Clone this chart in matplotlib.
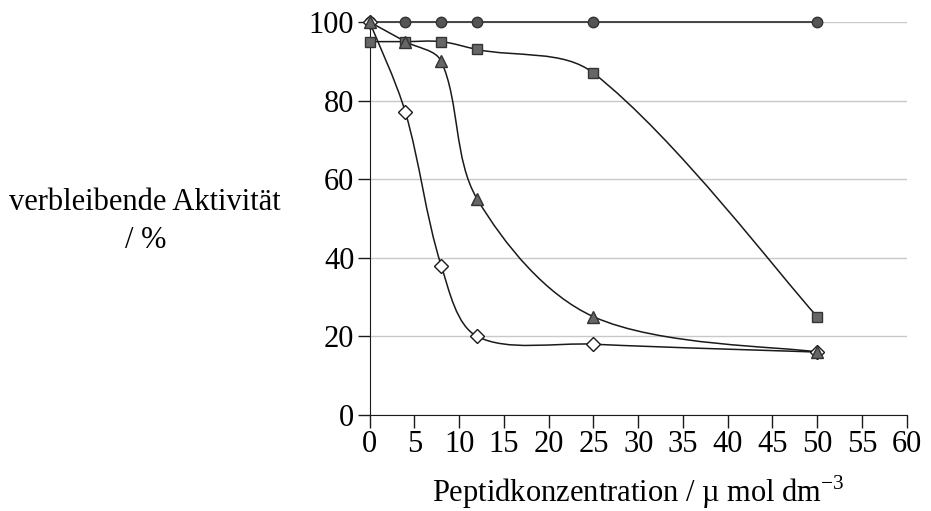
import numpy as np
import matplotlib
matplotlib.use("Agg")
import matplotlib.pyplot as plt
from matplotlib.path import Path
from matplotlib.patches import PathPatch

plt.rcParams["font.family"] = ["Liberation Serif", "DejaVu Serif"]
plt.rcParams["mathtext.fontset"] = "custom"
plt.rcParams["mathtext.rm"] = "Liberation Serif"

# Peptidkonzentration / umol dm^-3
conc = [0, 4, 8, 12, 25, 50]

# verbleibende Aktivitaet / %
circles = [100, 100, 100, 100, 100, 100]
squares = [95, 95, 95, 93, 87, 25]
triangles = [100, 95, 90, 55, 25, 16]
diamonds = [100, 77, 38, 20, 18, 16]

xticks = list(range(0, 61, 5))
yticks = [0, 20, 40, 60, 80, 100]


def smooth_path(ax, x, y):
    # Excel-like smoothed line, tangents worked out in screen units
    sx, sy = ax.transData.get_matrix()[0, 0], ax.transData.get_matrix()[1, 1]
    pts = np.column_stack([np.array(x) * sx, np.array(y) * sy]).astype(float)
    n = len(pts)
    verts = [pts[0]]
    codes = [Path.MOVETO]
    for i in range(n - 1):
        p0 = pts[i - 1] if i > 0 else pts[i]
        p1 = pts[i]
        p2 = pts[i + 1]
        p3 = pts[i + 2] if i + 2 < n else pts[i + 1]
        d01 = np.hypot(*(p1 - p0))
        d12 = np.hypot(*(p2 - p1))
        d23 = np.hypot(*(p3 - p2))
        f1 = d12 / (d01 + d12) / 3 if d01 > 0 else 1 / 6
        f2 = d12 / (d12 + d23) / 3 if d23 > 0 else 1 / 6
        c1 = p1 + (p2 - p0) * f1
        c2 = p2 - (p3 - p1) * f2
        verts += [c1, c2, p2]
        codes += [Path.CURVE4] * 3
    verts = np.array(verts) / [sx, sy]
    return Path(verts, codes)


fig = plt.figure(figsize=(9.31, 5.11), dpi=100)
ax = fig.add_axes([0.397, 0.188, 0.577, 0.769])
ax.set_xlim(0, 60)
ax.set_ylim(0, 100)

for vals in [circles, squares, triangles, diamonds]:
    ax.add_patch(PathPatch(smooth_path(ax, conc, vals), facecolor="none",
                           edgecolor="#1a1a1a", lw=1.1, zorder=3, clip_on=False))

ax.plot(conc, circles, "o", ms=7.5, mfc="#555555", mec="#333333", mew=1,
        zorder=4, clip_on=False)
ax.plot(conc, squares, "s", ms=7.5, mfc="#666666", mec="#333333", mew=1,
        zorder=4, clip_on=False)
ax.plot(conc, triangles, "^", ms=8.5, mfc="#666666", mec="#333333", mew=1,
        zorder=5, clip_on=False)
ax.plot(conc, diamonds, "D", ms=7, mfc="white", mec="#1a1a1a", mew=1,
        zorder=4, clip_on=False)

ax.set_xticks(xticks)
ax.set_yticks(yticks)
ax.yaxis.grid(True, color="#c8c8c8", lw=1)
ax.set_axisbelow(True)
for s in ["top", "right"]:
    ax.spines[s].set_visible(False)
ax.spines["left"].set_color("#1a1a1a")
ax.spines["bottom"].set_color("#1a1a1a")
ax.tick_params(labelsize=22, length=9, width=1, color="#1a1a1a", pad=2)

ax.set_xlabel(r"Peptidkonzentration / µ mol dm$^{-3}$", fontsize=22, labelpad=10)
fig.text(0.156, 0.567, "verbleibende Aktivität\n/ %", fontsize=22,
         ha="center", va="center", linespacing=1.4)

fig.savefig("out.png", dpi=100)
